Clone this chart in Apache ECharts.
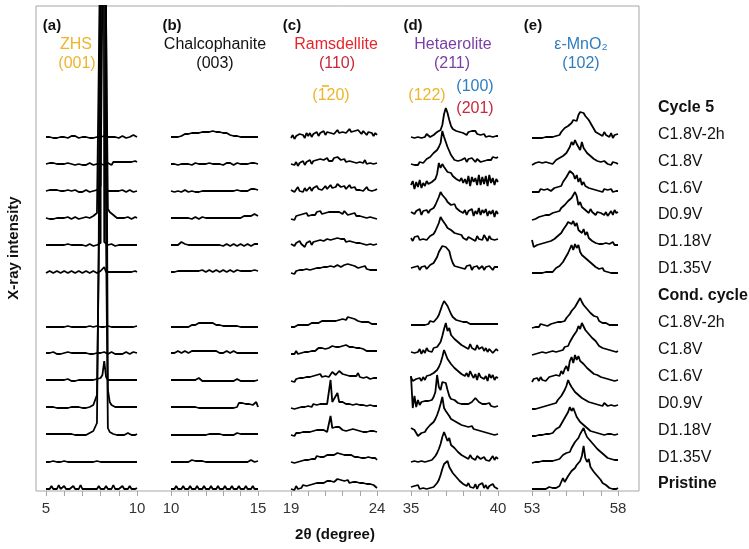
<!DOCTYPE html>
<html>
<head>
<meta charset="utf-8">
<script src="https://cdn.jsdelivr.net/npm/echarts@6/dist/echarts.min.js"></script>
<style>
  html, body { margin: 0; padding: 0; background: #fff; }
  #chart { width: 749px; height: 549px; }
</style>
</head>
<body>
<div id="chart"></div>
<script>
// 2θ range of each panel
const panelRanges = [[5, 10], [10, 15], [19, 24], [35, 40], [53, 58]];

// stacking slot of each row, top row first (slot 7 is the gap between the two blocks)
const rowSlots = [13, 12, 11, 10, 9, 8, 6, 5, 4, 3, 2, 1, 0];

// labels on the right, bottom first
const sideLabels = ['Pristine', 'D1.35V', 'D1.18V', 'D0.9V', 'C1.6V', 'C1.8V', 'C1.8V-2h',
  'Cond. cycle', 'D1.35V', 'D1.18V', 'D0.9V', 'C1.6V', 'C1.8V', 'C1.8V-2h', 'Cycle 5'];
const boldLabels = ['Pristine', 'Cond. cycle', 'Cycle 5'];

// traces: 51 samples per row, 0.1° step, one char per sample (0-9, a-z = 10-35, capitals = big values)
const BIG = { A: 36, B: 38, C: 40, D: 45, E: 50, F: 60, G: 80, H: 100, I: 150, J: 200, K: 300, L: 400, M: 600, N: 900, O: 1500 };

const zhsRows = [
  '3234232432 3323424323 3234232332 3342343233 2343243454 3',
  '3243423432 3342322433 2322432332 3323432545 4545654546 5',
  '3243434232 3342334324 2343233345 8JO8323234 3243234323 3',
  '3423233432 3243234323 3243345788 KONJc98653 2343243234 3',
  '3234323432 3242343234 3323432334 5O64324323 3234323432 3',
  '2343234323 4323432343 2343234323 4383432343 2343234324 3',
  '2222232222 2232222322 2222322232 2222322222 2222222223 3',
  '3232432323 3242323432 3233232433 3243234323 2323432343 3',
  '3232323232 3243232332 3232343345 58m6323432 3232343232 3',
  '3232332323 2323323233 23233457fI LONLk85433 3234323432 3',
  '3232323432 3232332323 23234568eJ MONJ954332 3232343232 3',
  '2222322222 3222232222 2322222232 2222232222 2322222223 2',
  '2325242623 5242352426 2424232425 2325242624 2352425242 3'
];

const chalcoRows = [
  '3234354565 6576787989 898a9a8988 7676554543 3434343434 3',
  '3433243432 3423433232 3343323433 2343432343 3234334343 3',
  '3323332343 2333232333 3233323332 3233323343 3334345654 4',
  '3232323432 3323432343 3435343232 3434343534 3454565675 5',
  '3434356543 3434323434 3234323433 2343234323 4323432343 4',
  '3435434543 4543454354 3454345434 5434543453 4543454354 4',
  '2323232323 2343456565 6565654543 3232323232 2323232323 2',
  '3434543454 3456545654 5456545434 3454345434 3434343434 3',
  '3232323232 3232345323 2323232323 2323232343 2323232323 3',
  '3232323232 3232322323 2323232323 2323232337 8766565578 3',
  '2323232323 2323232323 2232323232 2323232345 3232323233 3',
  '2323232323 2342323232 2323232323 2323232323 2323234323 3',
  '2425242524 2524252425 2425242524 2523252425 2425242524 2'
];

const ramsRows = [
  '2514364527 4736584769 5867968a79 8a79b8a97a 8697586747 5',
  '3425143625 4736475867 5968697a87 6857685746 5647354635 4',
  '4624735263 5736485746 8579687a97 6857965746 4635746354 5',
  '2415364758 5768697a76 879b979898 7a96876857 5646354533 2',
  '4625374615 4736475867 5978697a89 7968796857 5746354635 4',
  '2314253546 4536475768 6879788a98 9a8b9a8987 7869675756 5',
  '2323434545 4565676787 8789898a9b ab9cab9a98 8787676565 5',
  '2425243546 4657568687 7989a89a9b a9ba989787 8676575656 5',
  '2314253546 5647687968 7968b98acb 9a8978797a 6857674656 5',
  '2313243534 4536455656 565u8b9h87 8767685766 5756465645 4',
  '2314243545 4536475767 656l98a9a8 7968798677 6857566465 5',
  '2413243546 4657586787 7989a9ab9a a9b9898797 8676575656 4',
  '2415243645 4657687898 8a9ab9bcab 9a9b8a9798 8786757564 3'
];

const hetaeRows = [
  '3524352436 5345687afq wrkebc9a89 7958697968 5463545354 4',
  '3524253458 6a9echkoAu pkgca79687 6958697586 5768797a89 a',
  '9d5c7e6b8d a8cbfkvqur tmklijfhdg bfai8hcg9j 9hai8jbg9f c',
  '9b7a8c6a9b 8badgkotqr mjkgfhdeac 8b6a9c5a7d 6b8c5a7b4a 7',
  'a7b9c8a9b8 acbehlpvsq nkligfhecd ac8bd9a7c9 b8da7c9b8a 9',
  '7586958796 8a9cfinqtu srohc9a897 8697a58796 7958697586 8',
  '4343434545 58679bejos rnjfca9887 7676565656 5454545454 5',
  '4635472638 574869bekr xpslnhjegb d9b7c8a6b7 6958476357 5',
  '6214352637 687a9dgkqx voqjkfgcd9 b7a6c8593a 6847295836 5',
  'y2e3a58698 9badiznksu rkeb9a8786 5676589cb8 7646574535 4',
  '9a74134658 9cbfimrxCt qolijghefc dbca9b8a79 6857463524 3',
  '2435243524 35468bfkrw vnqjlghcd9 a785967486 5374635847 5',
  '4253624352 435468bgmr tuoqikegac 7958463726 4836253746 2'
];

const mnoRows = [
  '2324232435 343546589c bedhkmjpsu romkheg8a6 7485637254 6',
  '2342534253 46357698bc egkpmrnohp jlegbd8a67 5465342534 3',
  '2324253435 43565798ce hjnlkfjcg9 c8a6857453 4253425243 3',
  '1323435465 65879badeg hkjnqtpgje gbd8c9a697 8a6957a6b8 9',
  '8123243546 57698cbfik nqsormpikf jdga978564 3425342634 3',
  '2324232435 3435769bdg jmoupvrunk mhjegbc896 5746352423 2',
  '1324253423 4536475798 bdfikmpsvr opklghdbc8 9676545434 4',
  '1324354235 4356465769 baehkjpurx vqsmoijfda b8a7968574 5',
  '1425263524 64758a7c9e hcmqksnrmo jkfhce9b89 6756453524 3',
  '1213243243 54687acehk ouqnpikfhc eac8a79675 6475465645 5',
  '1213232434 354687adgi mpuqtrkmfh ce9a675645 3424353423 3',
  '1323243435 3435465798 bdcgimkqut Avrtnpjlfh cd9a675645 4',
  '2323242323 42353453d9 cfhkinqouz Dxtwoqjlfh b896534232 3'
];

const panelRows = [zhsRows, chalcoRows, ramsRows, hetaeRows, mnoRows];

// layout
const FONT = '"Liberation Sans", Arial, sans-serif';
const ROW_STEP = 27;
const panelLeft = [46, 171, 291, 411, 532];
const panelWidth = [91, 87, 86, 87, 86];

function decode(str) {
  return str.replace(/ /g, '').split('').map(ch => (BIG[ch] !== undefined ? BIG[ch] : parseInt(ch, 36)));
}

const grids = [];
const xAxes = [];
const yAxes = [];
const series = [];

panelRanges.forEach(([lo, hi], p) => {
  grids.push({ left: panelLeft[p], width: panelWidth[p], top: 6, bottom: 58 });
  xAxes.push({
    gridIndex: p,
    type: 'value',
    min: lo,
    max: hi,
    interval: 1,
    axisLine: { show: false },
    axisTick: { show: true, length: 5, lineStyle: { color: '#a6a6a6' } },
    splitLine: { show: false },
    axisLabel: {
      showMinLabel: true,
      showMaxLabel: true,
      margin: 10,
      color: '#333',
      fontSize: 15,
      fontFamily: FONT,
      formatter: v => (v === lo || v === hi ? String(v) : '')
    }
  });
  yAxes.push({ gridIndex: p, type: 'value', min: 0, max: 485, show: false });

  panelRows[p].forEach((row, r) => {
    const vals = decode(row);
    const step = (hi - lo) / (vals.length - 1);
    series.push({
      type: 'line',
      xAxisIndex: p,
      yAxisIndex: p,
      symbol: 'none',
      silent: true,
      clip: true,
      lineStyle: { color: '#000', width: 1.8 },
      data: vals.map((v, i) => [lo + i * step, rowSlots[r] * ROW_STEP + v])
    });
  });
});

// outer frame
grids.push({ left: 36, top: 6, width: 603, height: 485, show: true, borderColor: '#a6a6a6', borderWidth: 1, backgroundColor: 'transparent' });
xAxes.push({ gridIndex: 5, type: 'value', show: false });
yAxes.push({ gridIndex: 5, type: 'value', show: false });

const gold = '#ecb52c';
const red = '#e5262c';
const darkRed = '#c8283a';
const purple = '#7a3ea6';
const blue = '#2e7dbf';

const notes = [
  { t: '(a)', x: 52, y: 26, c: '#111', b: true },
  { t: '(b)', x: 172, y: 26, c: '#111', b: true },
  { t: '(c)', x: 292, y: 26, c: '#111', b: true },
  { t: '(d)', x: 413, y: 26, c: '#111', b: true },
  { t: '(e)', x: 533, y: 26, c: '#111', b: true },
  { t: 'ZHS', x: 76, y: 45, c: gold },
  { t: '(001)', x: 77, y: 64, c: gold },
  { t: 'Chalcophanite', x: 215, y: 45, c: '#111' },
  { t: '(003)', x: 215, y: 64, c: '#111' },
  { t: 'Ramsdellite', x: 336, y: 45, c: red },
  { t: '(110)', x: 337, y: 64, c: darkRed },
  { t: '(120)', x: 331, y: 96, c: gold },
  { t: 'Hetaerolite', x: 453, y: 45, c: purple },
  { t: '(211)', x: 452, y: 64, c: purple },
  { t: '(100)', x: 475, y: 87, c: blue },
  { t: '(122)', x: 427, y: 96, c: gold },
  { t: '(201)', x: 475, y: 109, c: darkRed },
  { t: '\u03b5-MnO\u2082', x: 581, y: 45, c: blue },
  { t: '(102)', x: 581, y: 64, c: blue }
];

const graphics = notes.map(n => ({
  type: 'text',
  x: n.x,
  y: n.y,
  silent: true,
  style: {
    text: n.t,
    fill: n.c,
    font: n.b ? 'bold 15px ' + FONT : '16px ' + FONT,
    align: 'center',
    verticalAlign: 'middle'
  }
}));

// bar over the Miller index in (1-20)
graphics.push({
  type: 'line', silent: true,
  shape: { x1: 322, y1: 86, x2: 329, y2: 86 },
  style: { stroke: gold, lineWidth: 1.6 }
});

sideLabels.forEach((t, n) => {
  graphics.push({
    type: 'text',
    x: 658,
    y: 484 - 26.9 * n,
    silent: true,
    style: {
      text: t,
      fill: '#111',
      font: (boldLabels.includes(t) ? 'bold ' : '') + '16px ' + FONT,
      align: 'left',
      verticalAlign: 'middle'
    }
  });
});

graphics.push({
  type: 'text', x: 14, y: 248, rotation: Math.PI / 2, silent: true,
  style: { text: 'X-ray intensity', fill: '#111', font: 'bold 15px ' + FONT, align: 'center', verticalAlign: 'middle' }
});
graphics.push({
  type: 'text', x: 335, y: 535, silent: true,
  style: { text: '2\u03b8 (degree)', fill: '#111', font: 'bold 15px ' + FONT, align: 'center', verticalAlign: 'middle' }
});

const chart = echarts.init(document.getElementById('chart'));
chart.setOption({
  animation: false,
  backgroundColor: '#fff',
  grid: grids,
  xAxis: xAxes,
  yAxis: yAxes,
  series: series,
  graphic: graphics
});
</script>
</body>
</html>
